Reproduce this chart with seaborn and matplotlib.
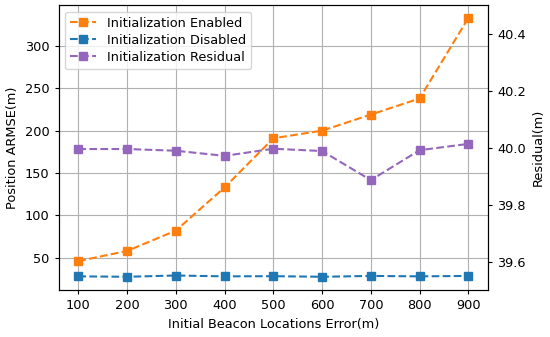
import matplotlib
matplotlib.use("Agg")
import matplotlib.pyplot as plt
import seaborn as sns
import pandas as pd

errors = [100, 200, 300, 400, 500, 600, 700, 800, 900]
enabled = [46, 58, 82, 133, 191, 200, 219, 238, 333]
disabled = [28, 27.5, 29, 28, 28.2, 27.5, 28.5, 28, 28.5]
residual = [39.995, 39.995, 39.989, 39.971, 39.996, 39.988, 39.886, 39.991, 40.013]

df = pd.DataFrame({"err": errors, "en": enabled, "dis": disabled, "res": residual})

plt.rcParams['font.family'] = ['DejaVu Sans']
plt.rcParams['font.size'] = 9.3
plt.rcParams['xtick.major.size'] = 3.2
plt.rcParams['ytick.major.size'] = 3.2

fig = plt.figure(figsize=(5.5, 3.37), dpi=100)
ax1 = fig.add_axes([0.107, 0.139, 0.78, 0.846])
ax2 = ax1.twinx()

c_en, c_dis, c_res = "#ff7f0e", "#1f77b4", "#9467bd"
kw = dict(marker="s", linestyle="--", markersize=6, linewidth=1.5, markeredgewidth=1)
sns.lineplot(data=df, x="err", y="en", ax=ax1, color=c_en, markeredgecolor=c_en,
             label="Initialization Enabled", legend=False, **kw)
sns.lineplot(data=df, x="err", y="dis", ax=ax1, color=c_dis, markeredgecolor=c_dis,
             label="Initialization Disabled", legend=False, **kw)
sns.lineplot(data=df, x="err", y="res", ax=ax2, color=c_res, markeredgecolor=c_res,
             label="Initialization Residual", legend=False, **kw)

ax1.set_xticks(errors)
ax1.set_xlim(60, 940)
ax1.set_ylim(11.7, 348.3)
ax1.set_yticks([50, 100, 150, 200, 250, 300])
ax2.set_ylim(39.5, 40.5)
ax2.set_yticks([39.6, 39.8, 40.0, 40.2, 40.4])
ax1.grid(True, color="#b0b0b0", linewidth=0.8)
ax1.set_axisbelow(True)

ax1.set_xlabel("Initial Beacon Locations Error(m)")
ax1.set_ylabel("Position ARMSE(m)")
ax2.set_ylabel("Residual(m)")

h1, l1 = ax1.get_legend_handles_labels()
h2, l2 = ax2.get_legend_handles_labels()
ax2.legend(h1 + h2, l1 + l2, loc="upper left", labelspacing=0.32)

fig.savefig("out.png", dpi=100)
